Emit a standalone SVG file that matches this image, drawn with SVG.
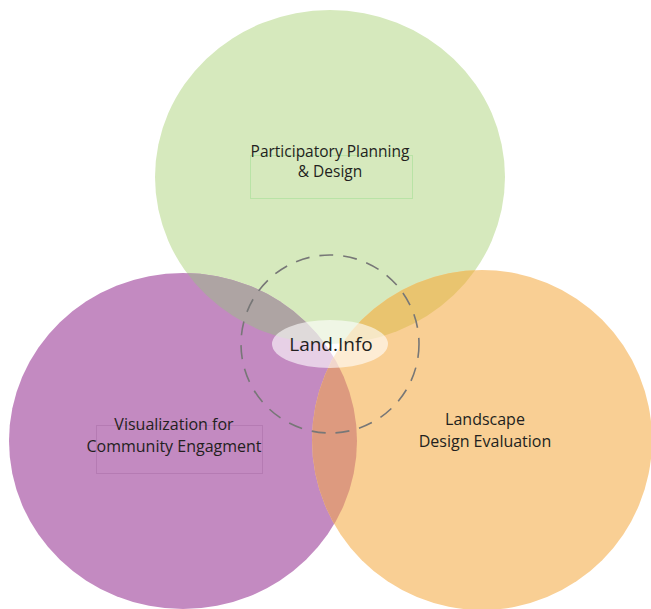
<svg xmlns="http://www.w3.org/2000/svg" width="651" height="609" viewBox="0 0 651 609">
<style>
.lbl{font-family:"Open Sans","Noto Sans",sans-serif;font-size:16px;fill:#231f20;text-anchor:middle}
.top{font-size:15.5px}
.center{font-family:"Open Sans","Noto Sans",sans-serif;font-size:19px;fill:#231f20;text-anchor:middle}
.dash{fill:none;stroke:#777777;stroke-width:1.6;stroke-dasharray:14 10}
</style>
<defs>
<clipPath id="cG"><ellipse cx="330" cy="177" rx="175" ry="167"/></clipPath>
<clipPath id="cP"><ellipse cx="183" cy="441" rx="174" ry="168"/></clipPath>
<clipPath id="cO"><ellipse cx="482" cy="440" rx="170" ry="170"/></clipPath>
</defs>
<rect width="651" height="609" fill="#ffffff"/>
<g id="participatory">
<ellipse cx="330" cy="177" rx="175" ry="167" fill="#d6e9bd"/>
</g>
<g id="visualization">
<ellipse cx="183" cy="441" rx="174" ry="168" fill="#c38ac1"/>
</g>
<g id="landscape">
<ellipse cx="482" cy="440" rx="170" ry="170" fill="#f9cf94"/>
</g>
<g id="overlaps">
<g clip-path="url(#cG)"><ellipse cx="183" cy="441" rx="174" ry="168" fill="#aea4a3"/></g>
<g clip-path="url(#cG)"><ellipse cx="482" cy="440" rx="170" ry="170" fill="#e9c46f"/></g>
<g clip-path="url(#cP)"><ellipse cx="482" cy="440" rx="170" ry="170" fill="#dd9a7f"/></g>
</g>
<g id="labels">
<rect x="250.5" y="155.5" width="162" height="43" fill="none" stroke="#b9e3a6" stroke-width="1"/>
<text class="lbl top" x="330" y="157">Participatory Planning</text>
<text class="lbl top" x="330" y="177">&amp; Design</text>
<rect x="96.5" y="425.5" width="166" height="48" fill="none" stroke="#b57bb3" stroke-width="1"/>
<text class="lbl" x="174" y="430">Visualization for</text>
<text class="lbl" x="174" y="452">Community Engagment</text>
<text class="lbl" x="485" y="425">Landscape</text>
<text class="lbl" x="485" y="447">Design Evaluation</text>
</g>
<g id="connectors">
<circle class="dash" cx="330" cy="344" r="89"/>
</g>
<g id="landinfo">
<ellipse cx="330" cy="344" rx="58" ry="24" fill="#ffffff" fill-opacity="0.6"/>
<text class="center" x="331" y="351">Land.Info</text>
</g>
</svg>
